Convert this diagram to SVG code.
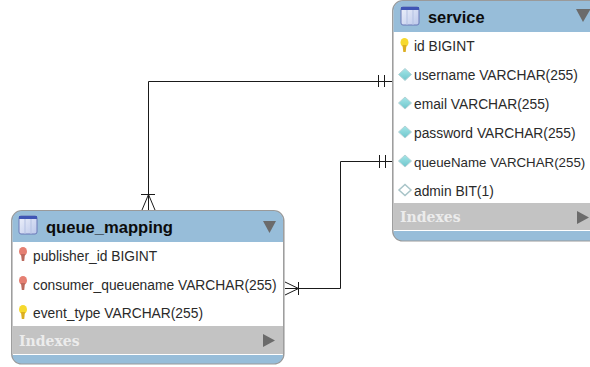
<svg xmlns="http://www.w3.org/2000/svg" width="590" height="367" viewBox="0 0 590 367">
<style>
.frame{fill:#fff;stroke:#9a9a9a;stroke-width:1.5}
.blue{fill:#97bdd9}
.gray{fill:#c3c3c3}
.title{font:bold 16.400px "Liberation Sans",Arial,sans-serif;fill:#0c0c0c}
.col{font:13.800px "Liberation Sans",Arial,sans-serif;fill:#2a2a2a}
.idx{font:bold 14px "DejaVu Serif","Liberation Serif",serif;fill:#ececec}
.tri{fill:#6b6b6b}
.conn{fill:none;stroke:#1a1a1a;stroke-width:1}
</style>
<defs>
<linearGradient id="dg" x1="0" y1="0" x2="0" y2="1"><stop offset="0" stop-color="#a5e6e8"/><stop offset="1" stop-color="#6fc6cc"/></linearGradient>
<linearGradient id="ig" x1="0" y1="0" x2="1" y2="1"><stop offset="0" stop-color="#eef1fb"/><stop offset="1" stop-color="#bcc8ea"/></linearGradient>
<g id="tableicon">
<rect x="0" y="0" width="18" height="18" rx="2" fill="url(#ig)" stroke="#6a78b8" stroke-width="1"/>
<rect x="0" y="0" width="18" height="3" fill="#3f55b5"/>
<path d="M6 3V18M12 3V18" stroke="#b4c1e2" stroke-width="1"/>
</g>
<g id="key"><ellipse cx="0" cy="-2.500" rx="4" ry="4.500" fill="#f6d92e"/><path d="M-2 0H2L1.200 7H-1.200Z" fill="#dcae22"/></g>
<g id="fk"><ellipse cx="0" cy="-2.500" rx="4" ry="4.500" fill="#e57f72"/><path d="M-2 0H2L1.200 7H-1.200Z" fill="#bb6a5e"/></g>
<path id="dia" d="M0 -6L6.500 0L0 6L-6.500 0Z" fill="url(#dg)" stroke="#b5d2d6" stroke-width="1"/>
<path id="dia2" d="M0 -5.500L6 0L0 5.500L-6 0Z" fill="#fff" stroke="#a8c4c8" stroke-width="1.500"/>
</defs>
<g id="connectors">
<path class="conn" d="M393 81.500H148.500V210"/>
<path class="conn" d="M378.500 75V87M384.500 75V87"/>
<path class="conn" d="M141 194.500H155M148.500 194.500L142 210M148.500 194.500L155 210"/>
<path class="conn" d="M393 161.500H340.500V288.500H285"/>
<path class="conn" d="M379.500 155V168M385.500 155V168"/>
<path class="conn" d="M298.500 282V295M298.500 288.500L285 282M298.500 288.500L285 295"/>
</g>
<g id="service">
<rect class="frame" x="392.800" y="0.800" width="210" height="240" rx="10"/>
<path class="blue" d="M393.500 10a9 9 0 0 1 9-9H600V32H393.500Z"/>
<rect class="gray" x="393.500" y="203" width="205" height="27"/>
<path class="blue" d="M393.500 231H600V240.500H402a8.500 8.500 0 0 1-8.500-8.500Z"/>
<use href="#tableicon" x="401" y="7"/>
<text class="title" x="428" y="23">service</text>
<path class="tri" d="M576 9H590V10L583 22Z"/>
<use href="#key" x="404.500" y="45"/>
<text class="col" x="414" y="51">id BIGINT</text>
<use href="#dia" x="405" y="74.500"/>
<text class="col" x="414" y="80">username VARCHAR(255)</text>
<use href="#dia" x="405" y="103"/>
<text class="col" x="414" y="109">email VARCHAR(255)</text>
<use href="#dia" x="405" y="132"/>
<text class="col" x="414" y="138">password VARCHAR(255)</text>
<use href="#dia" x="405" y="161"/>
<text class="col" x="414" y="167" style="font-size:13.300px">queueName VARCHAR(255)</text>
<use href="#dia2" x="405" y="190"/>
<text class="col" x="414" y="196">admin BIT(1)</text>
<text class="idx" x="400" y="222">Indexes</text>
<path class="tri" d="M577 211L589 217.500L577 224Z"/>
</g>
<g id="queue_mapping">
<rect class="frame" x="11.800" y="210.800" width="272" height="153" rx="10"/>
<path class="blue" d="M12.500 220a9 9 0 0 1 9-9H274a9 9 0 0 1 9 9V242H12.500Z"/>
<rect class="gray" x="12.500" y="326" width="270.500" height="28"/>
<path class="blue" d="M12.500 355H283V355a8.500 8.500 0 0 1-8.500 8.500H21a8.500 8.500 0 0 1-8.500-8.500Z"/>
<use href="#tableicon" x="19" y="216"/>
<text class="title" x="46" y="233" textLength="127" lengthAdjust="spacingAndGlyphs">queue_mapping</text>
<path class="tri" d="M263 221H276L269.500 233Z"/>
<use href="#fk" x="23" y="254"/>
<text class="col" x="33" y="261">publisher_id BIGINT</text>
<use href="#fk" x="23" y="283"/>
<text class="col" x="33" y="290">consumer_queuename VARCHAR(255)</text>
<use href="#key" x="23" y="312"/>
<text class="col" x="33" y="318">event_type VARCHAR(255)</text>
<text class="idx" x="19" y="346">Indexes</text>
<path class="tri" d="M263 334L275 340.500L263 347Z"/>
</g>
</svg>
